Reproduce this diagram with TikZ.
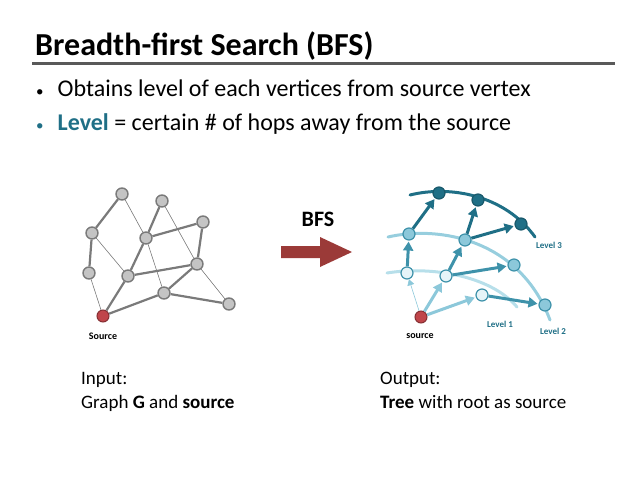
\documentclass[tikz,border=0pt]{standalone}
\usepackage{fontspec}
\setmainfont{Carlito}
\usetikzlibrary{arrows.meta}
\definecolor{tealD}{HTML}{1F6F86}
\definecolor{tealM}{HTML}{3E92AA}
\definecolor{tealL}{HTML}{8CC8DA}
\definecolor{tealLL}{HTML}{B7DFEA}
\definecolor{nodeG}{HTML}{C4C4C4}
\definecolor{edgeG}{HTML}{7A7A7A}
\definecolor{srcR}{HTML}{C0454A}
\definecolor{arrR}{HTML}{9B3A38}
\begin{document}
\begin{tikzpicture}[x=1pt,y=-1pt,
  gn/.style={circle,draw=edgeG,fill=nodeG,line width=1.4pt,minimum size=12pt,inner sep=0pt},
  sn/.style={circle,draw=srcR!70!black,fill=srcR,line width=1pt,minimum size=12pt,inner sep=0pt},
  thk/.style={draw=edgeG,line width=2.2pt},
  thn/.style={draw=edgeG,line width=0.6pt},
  l1n/.style={circle,draw=tealM,fill=tealLL!35,line width=1.2pt,minimum size=12pt,inner sep=0pt},
  l2n/.style={circle,draw=tealM,fill=tealL,line width=1.2pt,minimum size=12pt,inner sep=0pt},
  l3n/.style={circle,draw=tealD!80!black,fill=tealD,line width=1.2pt,minimum size=12pt,inner sep=0pt},
  arcline/.style={line width=3pt,line cap=round},
  ar/.style={-{Triangle[length=9pt,width=10pt]},line width=3pt,shorten >=1pt},
  lab/.style={font=\bfseries\fontsize{10}{11}\selectfont,inner sep=0pt},
  captxt/.style={anchor=base west,font=\fontsize{19}{23}\selectfont,inner sep=0pt},
  bul/.style={anchor=base west,font=\fontsize{24}{28}\selectfont,inner sep=0pt}]
\useasboundingbox (0,0) rectangle (638,479);
\node[anchor=base west,font=\bfseries\fontsize{32}{36}\selectfont,inner sep=0pt] (t) at (35,55) {Breadth-first Search (BFS)};
\draw[line width=3pt,draw=gray!70!black] (32,63) -- (615,63);
\node[bul] (b1) at (36,96) {{\fontsize{15}{15}\selectfont\textbullet}\hspace{14pt}Obtains level of each vertices from source vertex};
\node[bul] (b2) at (36,130) {\textcolor{tealD}{{\fontsize{15}{15}\selectfont\textbullet}}\hspace{14pt}\textcolor{tealD}{\textbf{Level}} = certain \# of hops away from the source};
% left graph
\node[gn] (A) at (122,194) {};
\node[gn] (B) at (162,201) {};
\node[gn] (C) at (92,233) {};
\node[gn] (D) at (146,238) {};
\node[gn] (E) at (203,222) {};
\node[gn] (F) at (89,273) {};
\node[gn] (G) at (128,276) {};
\node[gn] (H) at (197,264) {};
\node[gn] (I) at (164,293) {};
\node[gn] (J) at (229,304) {};
\node[sn] (S) at (103,316) {};
\path[thk] (A)--(C) (C)--(F) (S)--(G) (G)--(D) (D)--(B) (D)--(E) (E)--(H) (G)--(H) (H)--(I) (I)--(S) (I)--(J);
\path[thn] (A)--(D) (C)--(G) (F)--(S) (B)--(H) (D)--(I) (H)--(J);
\node[lab] (srcL) at (103,336) {Source};
% arrow
\node[font=\bfseries\fontsize{22}{26}\selectfont,inner sep=0pt] (bfs) at (318,219) {BFS};
\fill[arrR] (281,246) -- (320,246) -- (320,237) -- (352,252) -- (320,267) -- (320,258) -- (281,258) -- cycle;
% right graph arcs
\coordinate (c1s) at (387,273); \coordinate (c1e) at (517,307);
\coordinate (c2s) at (388,237); \coordinate (c2e) at (550,320);
\coordinate (c3s) at (410,195); \coordinate (c3e) at (535,237);
\draw[arcline,tealLL] (c1s) .. controls (430,266) and (490,275) .. (c1e);
\draw[arcline,tealL!90!white] (c2s) .. controls (440,225) and (520,240) .. (c2e);
\draw[arcline,tealD] (c3s) .. controls (450,185) and (505,195) .. (c3e);
\node[sn] (S2) at (421,317) {};
\node[l1n] (a) at (407,273) {};
\node[l1n] (b) at (446,276) {};
\node[l1n] (c) at (482,295) {};
\node[l2n] (d) at (409,234) {};
\node[l2n] (e) at (465,240) {};
\node[l2n] (f) at (514,265) {};
\node[l2n] (g) at (545,305) {};
\node[l3n] (h) at (439,193) {};
\node[l3n] (i) at (478,200) {};
\node[l3n] (j) at (521,224) {};
\draw[-{Triangle[length=6pt,width=7pt]},line width=0.6pt,tealL] (S2) -- (a);
\draw[ar,tealL] (S2) -- (b);
\draw[ar,tealL] (S2) -- (c);
\draw[ar,tealM] (a) -- (d);
\draw[ar,tealM] (b) -- (e);
\draw[ar,tealM] (b) -- (f);
\draw[ar,tealM] (c) -- (g);
\draw[ar,tealD] (d) -- (h);
\draw[ar,tealD] (e) -- (i);
\draw[ar,tealD] (e) -- (j);
\node[lab] (srcR) at (420,336) {source};
\node[lab,text=tealD,font=\bfseries\fontsize{9}{10}\selectfont] (L1) at (500,324) {Level 1};
\node[lab,text=tealD,font=\bfseries\fontsize{9}{10}\selectfont] (L2) at (553,331) {Level 2};
\node[lab,text=tealD,font=\bfseries\fontsize{9}{10}\selectfont] (L3) at (549,245) {Level 3};
% captions
\node[captxt] (in1) at (81,384) {Input:};
\node[captxt] (in2) at (81,408) {Graph \textbf{G} and \textbf{source}};
\node[captxt] (out1) at (380,384) {Output:};
\node[captxt] (out2) at (380,408) {\textbf{Tree} with root as source};
\end{tikzpicture}
\end{document}
